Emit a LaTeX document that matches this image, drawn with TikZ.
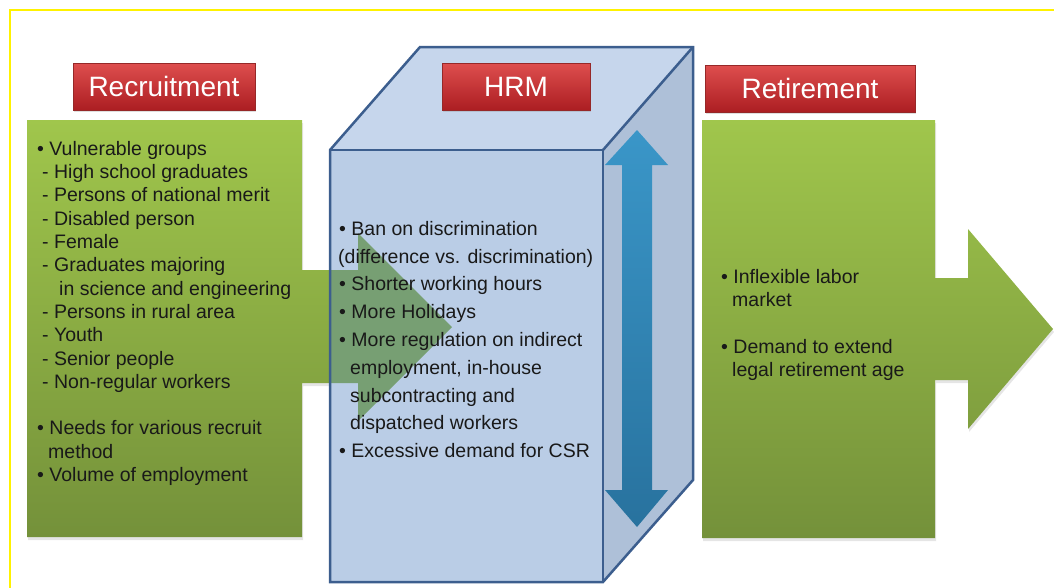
\documentclass[tikz,border=0pt]{standalone}
\usepackage{fontspec}
\setmainfont{Liberation Sans}
\usetikzlibrary{positioning,shadows}

\definecolor{greentop}{RGB}{160,198,76}
\definecolor{greenbot}{RGB}{116,145,58}
\definecolor{greenveil}{RGB}{108,152,96}
\definecolor{titletop}{RGB}{222,78,78}
\definecolor{titlebot}{RGB}{172,30,34}
\definecolor{titleedge}{RGB}{150,40,40}
\definecolor{cubefront}{RGB}{186,205,230}
\definecolor{cubetop}{RGB}{198,214,236}
\definecolor{cubeside}{RGB}{174,192,216}
\definecolor{cubeline}{RGB}{60,94,142}
\definecolor{bluetop}{RGB}{58,150,200}
\definecolor{bluebot}{RGB}{40,114,158}
\definecolor{textdark}{RGB}{25,25,25}

\tikzset{
  titlebox/.style={draw=titleedge, top color=titletop, bottom color=titlebot,
    text=white, font=\fontsize{28}{30}\selectfont, minimum height=47pt,
    inner sep=0pt, drop shadow={opacity=0.25, shadow xshift=1pt, shadow yshift=-2pt}},
  bodytext/.style={anchor=north west, align=left, inner sep=0pt, text=textdark,
    font=\fontsize{19.5}{23.3}\selectfont},
  greenshape/.style={top color=greentop, bottom color=greenbot,
    drop shadow={opacity=0.2, shadow xshift=1pt, shadow yshift=-3pt}},
  cubeedge/.style={draw=cubeline, line width=2.5pt, line join=miter},
}

\begin{document}
\begin{tikzpicture}[x=1pt, y=-1pt]
  \useasboundingbox (0,0) rectangle (1054,587);
  \clip (0,0) rectangle (1054,587);
  \fill[white] (0,0) rectangle (1054,587);
  \draw[yellow, line width=2pt] (10,10) rectangle (1070,600);

  % green blocks with their arrows
  \path[greenshape] (27,120) -- (302,120) -- (302,270) -- (358,270) -- (358,233)
    -- (452,327) -- (358,421) -- (358,383) -- (302,383) -- (302,537) -- (27,537) -- cycle;
  \path[greenshape] (702,120) -- (935,120) -- (935,278) -- (968,278) -- (968,229)
    -- (1053,329) -- (968,429) -- (968,380) -- (935,380) -- (935,538) -- (702,538) -- cycle;

  % corners of the box
  \coordinate (A) at (330,150);
  \coordinate (B) at (603,150);
  \coordinate (C) at (603,582);
  \coordinate (D) at (330,582);
  \coordinate (E) at (420,47);
  \coordinate (F) at (693,47);
  \coordinate (G) at (693,480);

  \fill[cubetop] (A) -- (E) -- (F) -- (B) -- cycle;
  \fill[cubeside] (B) -- (F) -- (G) -- (C) -- cycle;
  \fill[cubefront] (A) -- (B) -- (C) -- (D) -- cycle;

  % arrow head seen through the front face
  \begin{scope}
    \clip (A) -- (B) -- (C) -- (D) -- cycle;
    \fill[greenveil, opacity=0.85] (302,270) -- (358,270) -- (358,233) -- (452,327)
      -- (358,421) -- (358,383) -- (302,383) -- cycle;
  \end{scope}

  \draw[cubeedge] (A) -- (E) -- (F) -- (G) -- (C) -- (D) -- cycle;
  \draw[cubeedge] (A) -- (B) -- (C);
  \draw[cubeedge] (B) -- (F);

  % up and down arrow on the side
  \path[top color=bluetop, bottom color=bluebot]
    (637,130) -- (668,165) -- (652,165) -- (652,490) -- (668,490) -- (637,527)
    -- (605,490) -- (622,490) -- (622,165) -- (605,165) -- cycle;

  % titles
  \node[titlebox, minimum width=182pt] (recruit) at (164,86.5) {Recruitment};
  \node[titlebox, minimum width=148pt] (hrm) at (516,86.5) {HRM};
  \node[titlebox, minimum width=210pt] (retire) at (810,88.5) {Retirement};

  % lists
  \node[bodytext] (recruitlist) at (37,141) {%
    • Vulnerable groups\\
    \hspace*{5pt}- High school graduates\\
    \hspace*{5pt}- Persons of national merit\\
    \hspace*{5pt}- Disabled person\\
    \hspace*{5pt}- Female\\
    \hspace*{5pt}- Graduates majoring\\
    \hspace*{22pt}in science and engineering\\
    \hspace*{5pt}- Persons in rural area\\
    \hspace*{5pt}- Youth\\
    \hspace*{5pt}- Senior people\\
    \hspace*{5pt}- Non-regular workers\\[23.3pt]
    • Needs for various recruit\\
    \hspace*{11pt}method\\
    • Volume of employment};

  \node[bodytext, font=\fontsize{19.5}{27.8}\selectfont] (hrmlist) at (338,221) {%
    \hspace*{1pt}• Ban on discrimination\\
    (difference vs. discrimination)\\
    \hspace*{1pt}• Shorter working hours\\
    \hspace*{1pt}• More Holidays\\
    \hspace*{1pt}• More regulation on indirect\\
    \hspace*{12pt}employment, in-house\\
    \hspace*{12pt}subcontracting and\\
    \hspace*{12pt}dispatched workers\\
    \hspace*{1pt}• Excessive demand for CSR};

  \node[bodytext] (retirelist) at (721,269) {%
    • Inflexible labor\\
    \hspace*{11pt}market\\[23.3pt]
    • Demand to extend\\
    \hspace*{11pt}legal retirement age};
\end{tikzpicture}
\end{document}
